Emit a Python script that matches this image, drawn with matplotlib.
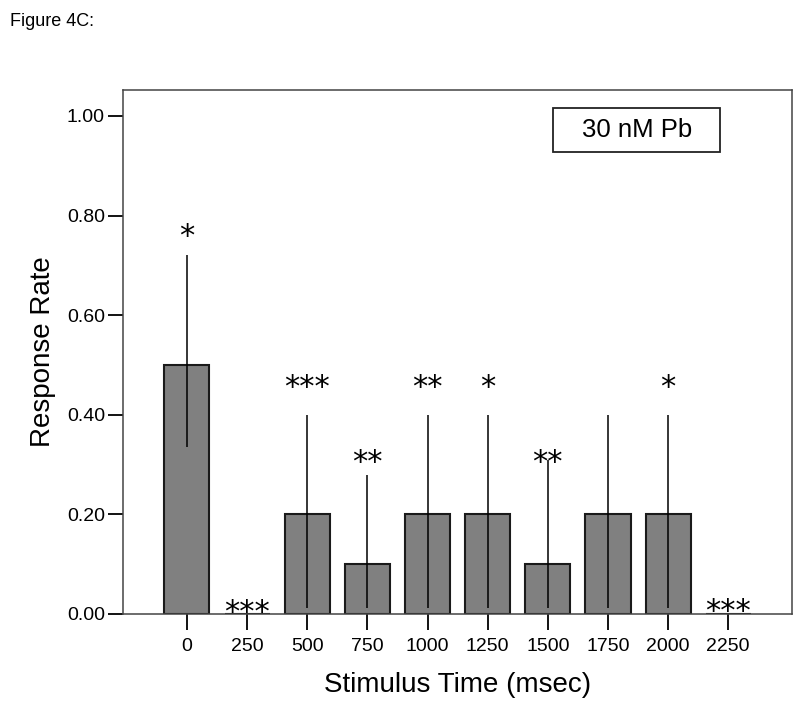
import matplotlib
matplotlib.use('Agg')
import matplotlib.pyplot as plt
from matplotlib.patches import Rectangle
import numpy as np

plt.rcParams['font.family'] = ['Liberation Sans', 'DejaVu Sans']

# data
stim_times = ['0', '250', '500', '750', '1000', '1250', '1500', '1750', '2000', '2250']
response_rate = [0.50, 0.00, 0.20, 0.10, 0.20, 0.20, 0.10, 0.20, 0.20, 0.00]
err_low = [0.336, 0.00, 0.012, 0.012, 0.012, 0.012, 0.012, 0.012, 0.012, 0.00]
err_high = [0.72, 0.00, 0.40, 0.28, 0.40, 0.40, 0.31, 0.40, 0.40, 0.00]
signif = ['*', '***', '***', '**', '**', '*', '**', '', '*', '***']
signif_y = [0.757, 0.004, 0.454, 0.305, 0.454, 0.454, 0.305, 0.0, 0.454, 0.006]

x = np.arange(len(stim_times))

fig = plt.figure(figsize=(8, 7.04), dpi=100)
ax = fig.add_axes([123/800, 1 - 614/704, (792-123)/800, (614-90)/704])

ax.bar(x, response_rate, width=0.75, color='#808080', edgecolor='#1a1a1a', linewidth=1.5, zorder=2)

# error lines (only where there is spread)
for i in range(len(x)):
    if err_high[i] > err_low[i]:
        ax.vlines(x[i], err_low[i], err_high[i], color='black', linewidth=1.1, zorder=3)
    if signif[i]:
        ax.text(x[i], signif_y[i], signif[i], ha='center', va='center', fontsize=22,
                family='DejaVu Sans', color='black', zorder=4)

ax.set_xlim(-1.063, 10.06)
ax.set_ylim(0, 1.052)
ax.set_xticks(x)
ax.set_xticklabels(stim_times)
ax.set_yticks([0, 0.2, 0.4, 0.6, 0.8, 1.0])
ax.set_yticklabels(['0.00', '0.20', '0.40', '0.60', '0.80', '1.00'])
ax.tick_params(axis='x', direction='out', length=11.5, width=1.3, pad=6, labelsize=14)
ax.tick_params(axis='y', direction='out', length=11, width=1.3, pad=2, labelsize=14)

for s in ax.spines.values():
    s.set_linewidth(1.1)
    s.set_color('#444444')

ax.set_xlabel('Stimulus Time (msec)', fontsize=20, labelpad=12)
ax.set_ylabel('Response Rate', fontsize=20, labelpad=8)

# legend-like label box
ax.add_patch(Rectangle((0.643, 0.882), 0.249, 0.084, transform=ax.transAxes, facecolor='white',
                       edgecolor='#222222', linewidth=1.3, zorder=5))
ax.text(0.768, 0.924, '30 nM Pb', transform=ax.transAxes, ha='center', va='center', fontsize=18.5, zorder=6)

fig.text(10/800, 1 - 22/704, 'Figure 4C:', ha='left', va='center', fontsize=13)

fig.savefig('out.png', dpi=100)
